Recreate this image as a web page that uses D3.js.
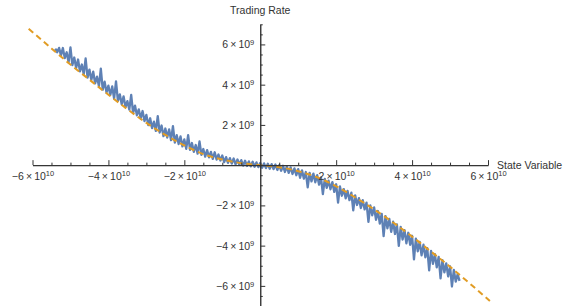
<!DOCTYPE html>
<html>
<head>
<meta charset="utf-8">
<script src="https://cdn.jsdelivr.net/npm/d3@7"></script>
<style>
  body { margin: 0; background: #fff; }
  svg { display: block; font-family: "Liberation Sans", Arial, sans-serif; }
</style>
</head>
<body>
<div id="chart"></div>
<script>
var width = 568, height = 306;

// noisy series, state variable in units of 1e10, trading rate in units of 1e9
var stateVar = [
  -5.40, -5.35, -5.30, -5.25, -5.20, -5.15, -5.10, -5.05, -5.00, -4.95,
  -4.90, -4.85, -4.80, -4.75, -4.70, -4.65, -4.60, -4.55, -4.50, -4.45,
  -4.40, -4.35, -4.30, -4.25, -4.20, -4.15, -4.10, -4.05, -4.00, -3.95,
  -3.90, -3.85, -3.80, -3.75, -3.70, -3.65, -3.60, -3.55, -3.50, -3.45,
  -3.40, -3.35, -3.30, -3.25, -3.20, -3.15, -3.10, -3.05, -3.00,
  -2.95, -2.90, -2.85, -2.80, -2.75, -2.70, -2.65, -2.60, -2.55, -2.50,
  -2.45, -2.40, -2.35, -2.30, -2.25, -2.20, -2.15, -2.10, -2.05, -2.00,
  -1.95, -1.90, -1.85, -1.80, -1.75, -1.70, -1.65, -1.60, -1.55, -1.50,
  -1.45, -1.40, -1.35, -1.30, -1.25, -1.20, -1.15, -1.10, -1.05, -1.00,
  -0.95, -0.90, -0.85, -0.80, -0.75, -0.70, -0.65, -0.60, -0.55, -0.50,
  -0.45, -0.40, -0.35, -0.30, -0.25, -0.20, -0.15, -0.10, -0.05, 0.00,
  0.05, 0.10, 0.15, 0.20, 0.25, 0.30, 0.35, 0.40, 0.45, 0.50,
  0.55, 0.60, 0.65, 0.70, 0.75, 0.80, 0.85, 0.90, 0.95, 1.00,
  1.05, 1.10, 1.15, 1.20, 1.25, 1.30, 1.35, 1.40, 1.45, 1.50,
  1.55, 1.60, 1.65, 1.70, 1.75, 1.80, 1.85, 1.90, 1.95, 2.00,
  2.05, 2.10, 2.15, 2.20, 2.25, 2.30, 2.35, 2.40, 2.45, 2.50,
  2.55, 2.60, 2.65, 2.70, 2.75, 2.80, 2.85, 2.90, 2.95, 3.00,
  3.05, 3.10, 3.15, 3.20, 3.25, 3.30, 3.35, 3.40, 3.45, 3.50,
  3.55, 3.60, 3.65, 3.70, 3.75, 3.80, 3.85, 3.90, 3.95, 4.00,
  4.05, 4.10, 4.15, 4.20, 4.25, 4.30, 4.35, 4.40, 4.45, 4.50,
  4.55, 4.60, 4.65, 4.70, 4.75, 4.80, 4.85, 4.90, 4.95, 5.00,
  5.05, 5.10, 5.15, 5.20, 5.25
];
var tradingRate = [
  5.79, 5.61, 5.83, 5.45, 5.82, 5.32, 5.61, 5.11, 5.85, 4.97,
  5.35, 4.83, 5.25, 4.66, 5.00, 4.52, 5.30, 4.35, 4.75, 4.23,
  4.65, 4.06, 4.40, 3.92, 4.80, 3.75, 4.15, 3.61, 3.95, 3.48,
  3.91, 3.31, 4.16, 3.19, 3.52, 3.03, 3.42, 2.88, 3.18, 2.76,
  3.49, 2.59, 2.96, 2.48, 2.77, 2.33, 2.69, 2.19, 2.50,
  1.99, 2.33, 1.84, 2.16, 1.70, 2.44, 1.62, 1.97, 1.44, 1.82,
  1.37, 1.78, 1.24, 1.94, 1.12, 1.49, 1.05, 1.43, 0.93, 1.28,
  0.81, 1.49, 0.76, 1.10, 0.66, 1.00, 0.57, 1.18, 0.51, 0.80,
  0.42, 0.75, 0.39, 0.66, 0.31, 0.64, 0.28, 0.53, 0.23, 0.48,
  0.15, 0.40, 0.11, 0.35, 0.08, 0.33, 0.04, 0.28, 0.02, 0.25,
  -0.02, 0.22, -0.04, 0.19, -0.06, 0.17, -0.08, 0.14, -0.10, 0.11,
  -0.13, 0.09, -0.15, 0.07, -0.18, 0.05, -0.20, 0.03, -0.24, 0.00,
  -0.28, -0.03, -0.34, -0.07, -0.38, -0.11, -0.44, -0.16, -0.50, -0.20,
  -0.63, -0.26, -0.67, -0.34, -1.10, -0.38, -0.81, -0.42, -0.85, -0.50,
  -0.97, -0.61, -1.44, -0.68, -1.13, -0.77, -1.20, -0.84, -1.33, -0.95,
  -1.86, -1.06, -1.52, -1.19, -1.65, -1.28, -1.74, -1.37, -2.25, -1.50,
  -1.98, -1.64, -2.13, -1.74, -2.20, -1.86, -2.82, -2.00, -2.49, -2.10,
  -2.72, -2.28, -2.90, -2.42, -3.53, -2.53, -3.14, -2.67, -3.31, -2.81,
  -3.42, -2.94, -4.01, -3.07, -3.70, -3.23, -3.89, -3.36, -3.96, -3.51,
  -4.68, -3.65, -4.28, -3.81, -4.48, -3.95, -4.58, -4.12, -5.23, -4.26,
  -4.90, -4.42, -5.08, -4.56, -5.63, -4.72, -5.33, -4.88, -5.53, -5.03,
  -6.03, -5.21, -5.79, -5.42, -5.75
];

// fitted curve (dashed), read at a few points
var fitX = [-6.1, -5.5, -5, -4.5, -4, -3.5, -3, -2.5, -2, -1.5, -1, -0.5, 0,
            0.5, 1, 1.5, 2, 2.5, 3, 3.5, 4, 4.5, 5, 5.5, 6.05];
var fitY = [6.78, 5.8, 5.0, 4.25, 3.5, 2.78, 2.1, 1.5, 0.98, 0.55, 0.28, 0.1, 0,
            -0.1, -0.3, -0.6, -1.05, -1.6, -2.2, -2.85, -3.55, -4.3, -5.05, -5.85, -6.75];

// ticks
var xMajor = [-6, -4, -2, 2, 4, 6];
var xMinor = [-5.5, -5, -4.5, -3.5, -3, -2.5, -1.5, -1, -0.5, 0.5, 1, 1.5, 2.5, 3, 3.5, 4.5, 5, 5.5];
var yMajor = [-6, -4, -2, 2, 4, 6];
var yMinor = [-7, -6.5, -5.5, -5, -4.5, -3.5, -3, -2.5, -1.5, -1, -0.5, 0.5, 1, 1.5, 2.5, 3, 3.5, 4.5, 5, 5.5, 6.5, 7];

var blue = "#5e81b5", orange = "#e19c24", axisCol = "#333";

var x = d3.scaleLinear().domain([-6, 6]).range([32.5, 488]);
var y = d3.scaleLinear().domain([-7, 7]).range([306, 24.3]);

var svg = d3.select("#chart").append("svg")
  .attr("width", width)
  .attr("height", height);

svg.append("rect").attr("width", width).attr("height", height).attr("fill", "#fff");

// data line
svg.append("path")
  .datum(d3.zip(stateVar, tradingRate))
  .attr("fill", "none")
  .attr("stroke", blue)
  .attr("stroke-width", 2.3)
  .attr("stroke-linejoin", "round")
  .attr("d", d3.line().x(d => x(d[0])).y(d => y(d[1])));

// fit line
svg.append("path")
  .datum(d3.zip(fitX, fitY))
  .attr("fill", "none")
  .attr("stroke", orange)
  .attr("stroke-width", 2)
  .attr("stroke-dasharray", "6,4")
  .attr("d", d3.line().curve(d3.curveMonotoneX).x(d => x(d[0])).y(d => y(d[1])));

// scientific tick label, e.g. -6 x 10^10
function sci(exp) {
  return function(sel) {
    sel.each(function(d) {
      var t = d3.select(this).text(null);
      t.append("tspan").text((d < 0 ? "\u2212" : "") + Math.abs(d) + "\u2009\u00d7\u200910");
      t.append("tspan").attr("dy", "-0.42em").attr("font-size", "7.5px").text(exp);
    });
  };
}

// x axis
var gx = svg.append("g").attr("transform", "translate(0," + y(0) + ")");
gx.append("g")
  .call(d3.axisBottom(x).tickValues(xMinor).tickSize(-2.5).tickSizeOuter(0).tickFormat(""));
gx.append("g")
  .call(d3.axisBottom(x).tickValues(xMajor).tickSize(-5).tickSizeOuter(0).tickPadding(7))
  .call(g => g.selectAll("text").call(sci("10")));

// y axis
var gy = svg.append("g").attr("transform", "translate(" + x(0) + ",0)");
gy.append("g")
  .call(d3.axisLeft(y).tickValues(yMinor).tickSize(-2.5).tickSizeOuter(0).tickFormat(""));
gy.append("g")
  .call(d3.axisLeft(y).tickValues(yMajor).tickSize(-5).tickSizeOuter(0).tickPadding(6))
  .call(g => g.selectAll("text").call(sci("9")));

svg.selectAll(".domain, .tick line").attr("stroke", axisCol);
svg.selectAll(".tick text").attr("fill", axisCol).attr("font-size", "10.5px")
  .attr("font-family", "\"Liberation Sans\", Arial, sans-serif");

// axis labels
svg.append("text")
  .attr("x", x(0)).attr("y", 14)
  .attr("text-anchor", "middle")
  .attr("font-size", "10.5px")
  .attr("fill", axisCol)
  .text("Trading Rate");

svg.append("text")
  .attr("x", 497).attr("y", y(0) + 3.5)
  .attr("font-size", "10.5px")
  .attr("fill", axisCol)
  .text("State Variable");
</script>
</body>
</html>
